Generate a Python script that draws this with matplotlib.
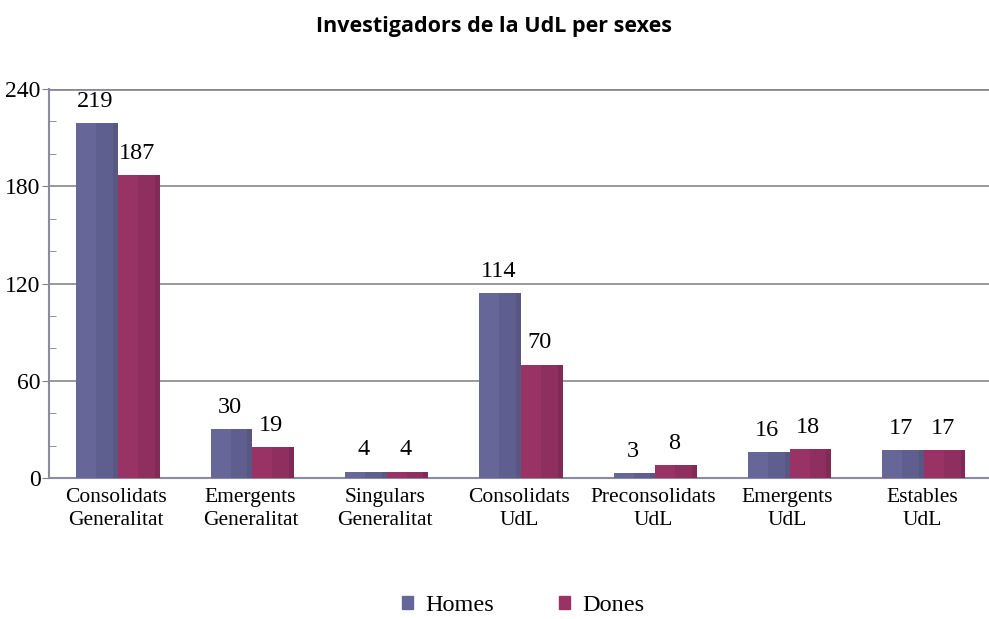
import numpy as np
import matplotlib
matplotlib.use("Agg")
import matplotlib.pyplot as plt
from matplotlib.patches import Patch

categories = ["Consolidats\nGeneralitat", "Emergents\nGeneralitat", "Singulars\nGeneralitat",
              "Consolidats\nUdL", "Preconsolidats\nUdL", "Emergents\nUdL", "Estables\nUdL"]
homes = [219, 30, 4, 114, 3, 16, 17]
dones = [187, 19, 4, 70, 8, 18, 17]

serif = "Liberation Serif"
homes_cols = ["#666699", "#5f5f8f", "#575782"]
dones_cols = ["#993366", "#8e2f5f", "#812a57"]
stripes = [0.48, 0.40, 0.12]

fig = plt.figure(figsize=(9.89, 6.19), dpi=100)
ax = fig.add_axes([0.0495, 0.2278, 0.9505, 0.6284])

x = np.arange(len(categories))
w = 0.31

def striped_bars(xs, vals, cols):
    start = xs - w / 2
    for frac, c in zip(stripes, cols):
        ax.bar(start, vals, width=w * frac, align="edge", color=c, zorder=3, linewidth=0)
        start = start + w * frac

striped_bars(x - w / 2 + 0.015, np.array(homes), homes_cols)
striped_bars(x + w / 2 + 0.015, np.array(dones), dones_cols)

for xi, h, d in zip(x, homes, dones):
    ax.annotate(str(h), (xi - w / 2, h), xytext=(0, 8), textcoords="offset points",
                ha="center", va="bottom", fontsize=17.5, family=serif)
    ax.annotate(str(d), (xi + w / 2, d), xytext=(0, 8), textcoords="offset points",
                ha="center", va="bottom", fontsize=17.5, family=serif)

ax.set_xlim(-0.5, len(categories) - 0.5)
ax.set_ylim(0, 240)
ax.set_yticks([0, 60, 120, 180, 240])
ax.set_yticks(np.arange(0, 241, 20), minor=True)
ax.tick_params(axis="y", which="major", length=5, color="#808090", labelsize=17, pad=1)
ax.tick_params(axis="y", which="minor", length=5, direction="in", color="#808090")
for lbl in ax.get_yticklabels():
    lbl.set_family(serif)
ax.set_xticks(x)
ax.set_xticklabels(categories, fontsize=15.5, family=serif, linespacing=1.3)
ax.tick_params(axis="x", length=0, pad=7)

ax.grid(axis="y", which="major", color="#888888", linewidth=1.2, zorder=0)
ax.axhline(240, color="#8a8aa8", linewidth=2.0, zorder=1)
for s in ["top", "right"]:
    ax.spines[s].set_visible(False)
ax.spines["left"].set_color("#8a8aa0")
ax.spines["bottom"].set_color("#8a8aa0")
ax.spines["left"].set_linewidth(1.5)
ax.spines["bottom"].set_linewidth(1.5)

fig.text(0.5, 0.957, "Investigadors de la UdL per sexes", ha="center", va="center",
         fontsize=15.5, fontweight="bold", family="Open Sans")

handles = [Patch(color=homes_cols[0]), Patch(color=dones_cols[0])]
fig.legend(handles, ["Homes", "Dones"], loc="center", bbox_to_anchor=(0.529, 0.022),
           ncol=2, frameon=False, prop={"family": serif, "size": 17.5},
           handlelength=0.45, handleheight=0.45, handletextpad=0.5, columnspacing=2.7)

fig.savefig("out.png", dpi=100)
